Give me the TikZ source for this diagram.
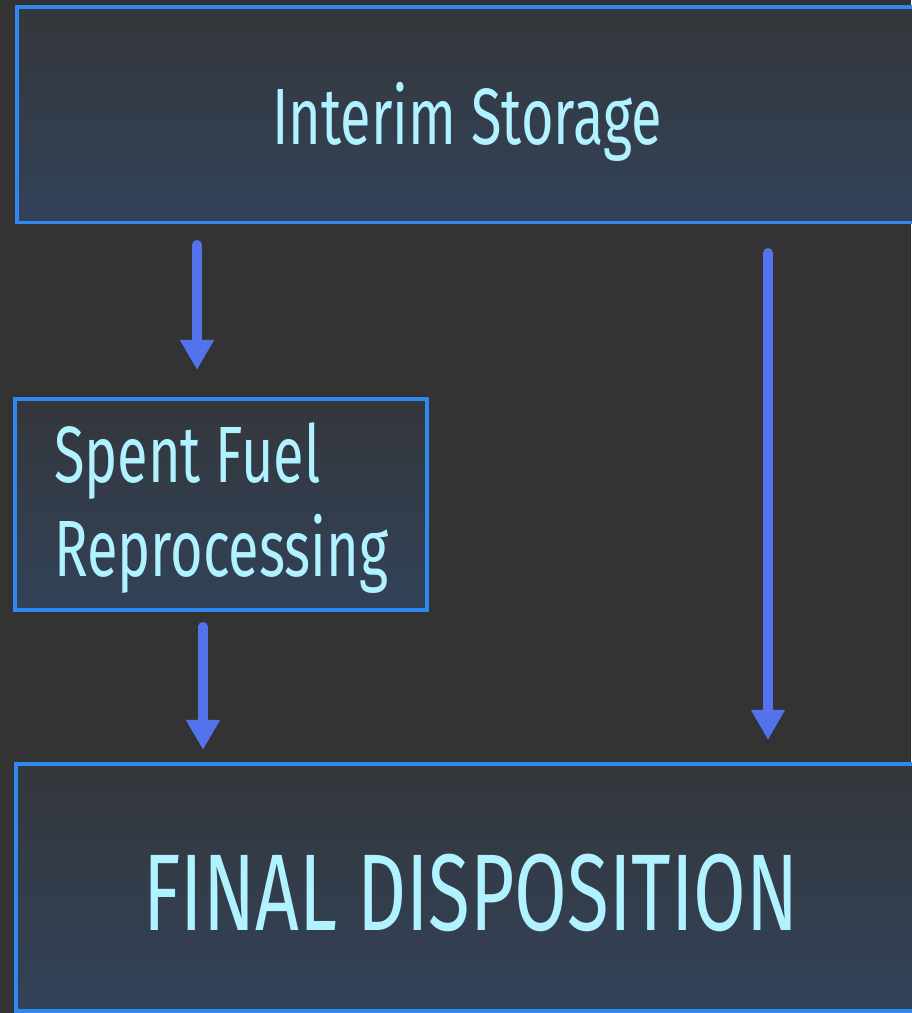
\documentclass[tikz,border=0pt]{standalone}
\usepackage{fontspec}
\setmainfont[FakeStretch=0.7]{Fira Sans}
\usetikzlibrary{arrows.meta}
\definecolor{bgcol}{HTML}{333333}
\definecolor{boxtop}{HTML}{34373B}
\definecolor{boxbot}{HTML}{324259}
\definecolor{edgecol}{HTML}{2F87F0}
\definecolor{arrcol}{HTML}{5373EC}
\definecolor{txtcol}{HTML}{B0F2FF}
\begin{document}
\begin{tikzpicture}[x=0.01cm,y=-0.01cm,
    box/.style={draw=edgecol, line width=1.1pt, top color=boxtop, bottom color=boxbot,
        inner sep=0pt, outer sep=0pt},
    lbl/.style={text=txtcol, inner sep=0pt, font=\fontsize{22.7}{26.7}\selectfont},
    arr/.style={draw=arrcol, line width=2.6pt, line cap=round,
        -{Triangle[width=0.32cm,length=0.3cm]}}]
    \fill[bgcol] (0,0) rectangle (911,1013);
    \useasboundingbox (0,0) rectangle (911,1013);
    % boxes
    \node[box, minimum width=9cm, minimum height=2.15cm] (storage) at (467,115) {};
    \node[box, minimum width=4.115cm, minimum height=2.11cm] (reproc) at (221.25,504.5) {};
    \node[box, minimum width=9.1cm, minimum height=2.47cm] (final) at (471,887.5) {};
    % labels
    \node[lbl] (storagetxt) at (467,122) {Interim Storage};
    \node[lbl, align=left] (reproctxt) at (221.25,508) {Spent Fuel\\Reprocessing};
    \node[lbl, font=\fontsize{31}{36}\selectfont] (finaltxt) at (471,893) {FINAL DISPOSITION};
    % arrows
    \coordinate (a1) at (197,0);
    \coordinate (a2) at (203,0);
    \coordinate (a3) at (768,0);
    \draw[arr, shorten <=0.22cm, shorten >=0.29cm] (storage.south -| a1) -- (reproc.north -| a1);
    \draw[arr, shorten <=0.165cm, shorten >=0.14cm] (reproc.south -| a2) -- (final.north -| a2);
    \draw[arr, shorten <=0.3cm, shorten >=0.24cm] (storage.south -| a3) -- (final.north -| a3);
\end{tikzpicture}
\end{document}
